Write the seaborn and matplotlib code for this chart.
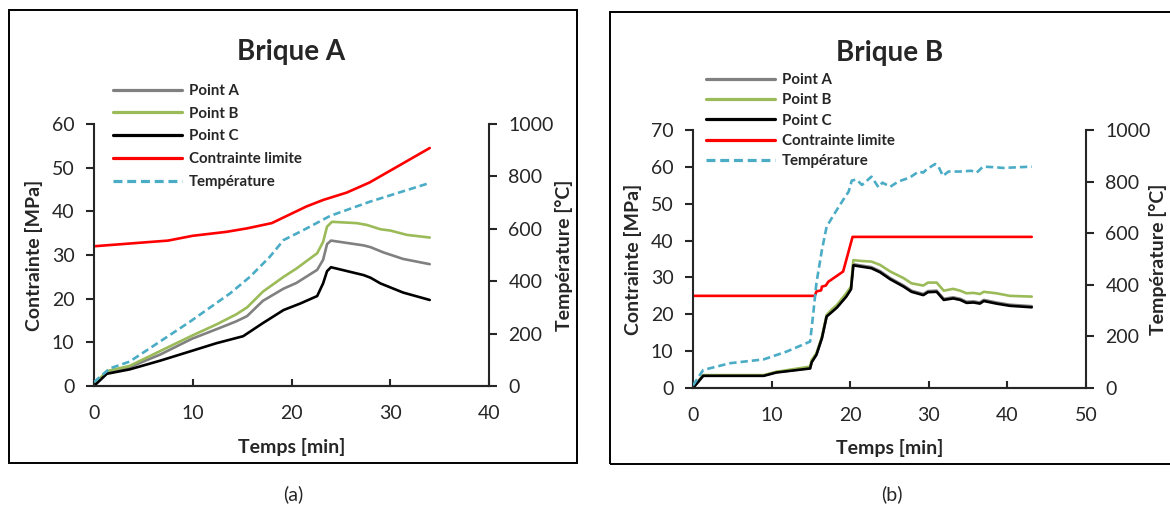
import matplotlib
matplotlib.use("Agg")
import matplotlib.pyplot as plt
from matplotlib.patches import Rectangle
import seaborn as sns

# -----------------------------
# DATA - BRIQUE A
# -----------------------------

a_pa_t = [0, 1.3, 3.6, 6.7, 9.9, 12.4, 14.4, 15.5, 17.1, 19.2, 20.5, 22.6, 23.2, 23.6, 24.0, 27.3, 28.0, 29.3, 31.3, 34.0]
a_pa_v = [0.3, 3.1, 4.3, 7.2, 10.8, 13.0, 14.8, 16.0, 19.5, 22.3, 23.6, 26.6, 28.9, 32.5, 33.3, 32.2, 31.8, 30.6, 29.1, 27.9]

a_pb_t = [0, 1.3, 3.6, 6.7, 9.9, 12.4, 14.4, 15.5, 17.1, 19.2, 20.5, 22.6, 23.2, 23.6, 24.1, 26.6, 27.6, 29.0, 30.0, 31.7, 34.0]
a_pb_v = [0.3, 3.4, 4.6, 8.0, 11.5, 14.1, 16.4, 18.0, 21.6, 25.0, 26.9, 30.4, 33.0, 36.5, 37.6, 37.3, 36.9, 35.9, 35.6, 34.6, 34.0]

a_pc_t = [0, 1.3, 3.6, 6.7, 9.7, 12.4, 15.1, 17.1, 19.2, 20.9, 22.6, 23.2, 23.6, 24.0, 27.3, 28.0, 29.0, 31.3, 34.0]
a_pc_v = [0, 2.8, 3.8, 5.8, 7.9, 9.8, 11.4, 14.4, 17.4, 18.9, 20.6, 23.5, 26.3, 27.2, 25.4, 24.8, 23.5, 21.4, 19.7]

a_lim_t = [0, 7.5, 10, 13.4, 15.5, 18.0, 21.5, 23.2, 25.6, 27.9, 34.0]
a_lim_v = [32, 33.3, 34.4, 35.3, 36.1, 37.3, 41.1, 42.6, 44.3, 46.6, 54.5]

a_temp_t = [0, 1.6, 3.6, 7.7, 9.7, 13.8, 15.8, 17.8, 19.2, 21.2, 23.9, 27.9, 34.0]
a_temp_v = [15, 67, 93, 195, 245, 354, 417, 493, 557, 595, 649, 703, 775]

# -----------------------------
# DATA - BRIQUE B
# -----------------------------

b_pt_t = [0, 1.3, 9.0, 10.6, 14.9, 15.1, 15.7, 16.4, 17.0, 17.6, 18.3, 19.5, 20.1, 20.4, 21.2, 22.7,
          23.8, 25.1, 26.8, 27.8, 29.3, 29.9, 31.0, 31.9, 33.1, 34.0, 34.8, 35.7, 36.5, 37.0, 38.6, 40.3, 43.1]
b_pa_v = [0, 3.4, 3.4, 4.3, 5.4, 7.1, 9.1, 13.6, 19.5, 20.6, 21.9, 24.9, 26.9, 33.6, 33.3, 32.8,
          31.7, 29.8, 27.8, 26.4, 25.5, 26.3, 26.4, 24.2, 24.6, 24.2, 23.4, 23.5, 23.2, 23.9, 23.2, 22.6, 22.2]
b_pb_v = [0, 3.5, 3.5, 4.4, 5.8, 7.6, 9.4, 13.9, 19.8, 21.2, 22.5, 25.7, 27.5, 34.7, 34.5, 34.3,
          33.4, 31.6, 29.8, 28.4, 27.8, 28.6, 28.6, 26.4, 26.9, 26.4, 25.7, 25.8, 25.5, 26.1, 25.7, 25.0, 24.8]
b_pc_v = [0, 3.3, 3.3, 4.2, 5.3, 7.0, 9.0, 13.5, 19.4, 20.5, 21.8, 24.8, 26.8, 33.3, 33.0, 32.5,
          31.4, 29.5, 27.5, 26.1, 25.2, 26.0, 26.1, 23.9, 24.3, 23.9, 23.1, 23.2, 22.9, 23.6, 22.9, 22.3, 21.9]

b_lim_t = [0, 15.5, 15.7, 16.3, 16.4, 16.9, 17.2, 19.1, 20.3, 43.1]
b_lim_v = [25, 25, 26.2, 26.5, 27.5, 27.8, 28.8, 31.6, 41, 41]

b_temp_t = [0, 1.3, 4.7, 9.0, 11.9, 14.9, 15.3, 15.7, 16.4, 17.0, 17.9, 19.1, 19.8, 20.2, 20.8, 21.5, 22.7, 23.6,
            24.1, 25.1, 26.1, 27.6, 28.7, 29.3, 29.7, 30.8, 31.2, 31.8, 32.5, 34.0, 35.4, 36.1, 36.9, 38.2, 39.5, 43.1]
b_temp_v = [10, 70, 96, 111, 141, 180, 289, 406, 535, 625, 671, 729, 761, 804, 808, 787, 819, 778,
            796, 780, 800, 816, 839, 835, 847, 868, 860, 822, 839, 839, 842, 835, 858, 856, 853, 858]

labels = ["Point A", "Point B", "Point C", "Contrainte limite", "Température"]
colors = ["#808080", "#9BBB59", "#000000", "#FF0000", "#4BACC6"]

# -----------------------------
# STYLE
# -----------------------------

sns.set_style("white")
plt.rcParams["font.family"] = ["Lato", "DejaVu Sans"]

W, H = 1170, 508
fig = plt.figure(figsize=(11.7, 5.08), dpi=100)


def panel(box, series, temp, xmax, ymax, title, title_xy, leg_xy, leg_space, frame, caption, caption_x):
    ax = fig.add_axes(box)
    for (t, v), lab, col in zip(series, labels[:4], colors[:4]):
        sns.lineplot(x=t, y=v, ax=ax, color=col, lw=1.9, label=lab, sort=False, estimator=None)
    ax2 = ax.twinx()
    sns.lineplot(x=temp[0], y=temp[1], ax=ax2, color=colors[4], lw=1.9, label=labels[4],
                 sort=False, estimator=None, linestyle=(0, (2.8, 1.5)))

    ax.set_xlim(0, xmax)
    ax.set_ylim(0, ymax)
    ax2.set_ylim(0, 1000)
    ax.set_xticks(range(0, xmax + 1, 10))
    ax.set_yticks(range(0, ymax + 1, 10))
    ax2.set_yticks(range(0, 1001, 200))

    for a in (ax, ax2):
        a.spines["top"].set_visible(False)
        for s in a.spines.values():
            s.set_linewidth(1.5)
    ax.spines["right"].set_visible(False)
    ax2.spines["left"].set_visible(False)

    ax.tick_params(axis="y", direction="out", length=6, width=1.5, pad=8, labelsize=14, left=True)
    ax.tick_params(axis="x", direction="in", length=5, width=1.5, pad=14, labelsize=14, bottom=True)
    ax2.tick_params(axis="y", direction="out", length=6, width=1.5, pad=8, labelsize=14, right=True)

    ax.set_xlabel("Temps [min]", fontsize=14, fontweight="bold")
    ax.set_ylabel("Contrainte [MPa]", fontsize=14, fontweight="bold")
    ax2.set_ylabel("Température [°C]", fontsize=14, fontweight="bold", rotation=90)
    ax.xaxis.set_label_coords(0.5, -0.233)
    ax.yaxis.set_label_coords(-0.153, 0.5)
    ax2.yaxis.set_label_coords(1.19 if xmax == 40 else 1.182, 0.5)
    ax.xaxis.label.set_va("center")
    ax.yaxis.label.set_va("center")
    ax2.yaxis.label.set_va("center")

    h1, l1 = ax.get_legend_handles_labels()
    h2, l2 = ax2.get_legend_handles_labels()
    ax.get_legend().remove()
    ax2.get_legend().remove()
    leg = ax2.legend(h1 + h2, l1 + l2, loc="upper left", bbox_to_anchor=(leg_xy[0] / W, 1 - leg_xy[1] / H),
                     bbox_transform=fig.transFigure, frameon=False, borderpad=0, borderaxespad=0,
                     handlelength=4.6, handletextpad=0.45, labelspacing=leg_space,
                     prop={"weight": "bold", "size": 10.8})
    for ln in leg.get_lines():
        ln.set_linewidth(2.3)

    fig.text(title_xy[0] / W, 1 - title_xy[1] / H, title, ha="center", va="center",
             fontsize=20, fontweight="bold")

    x0, y0, x1, y1 = frame
    fig.add_artist(Rectangle((x0 / W, 1 - y1 / H), (x1 - x0) / W, (y1 - y0) / H,
                             transform=fig.transFigure, fill=False, ec="black", lw=1.4))
    fig.text(caption_x / W, 1 - 494 / H, caption, ha="center", va="center", fontsize=14)


# -----------------------------
# BRIQUE A
# -----------------------------

panel([94 / W, 1 - 386 / H, 395 / W, 262 / H],
      [(a_pa_t, a_pa_v), (a_pb_t, a_pb_v), (a_pc_t, a_pc_v), (a_lim_t, a_lim_v)],
      (a_temp_t, a_temp_v), 40, 60, "Brique A", (291.5, 52), (113, 84), 0.58,
      (9, 10, 577, 463), "(a)", 293)

# -----------------------------
# BRIQUE B
# -----------------------------

panel([693 / W, 1 - 388 / H, 393 / W, 258 / H],
      [(b_pt_t, b_pa_v), (b_pt_t, b_pb_v), (b_pt_t, b_pc_v), (b_lim_t, b_lim_v)],
      (b_temp_t, b_temp_v), 50, 70, "Brique B", (890, 53), (706, 73), 0.42,
      (610, 12, 1185, 464), "(b)", 892)

fig.savefig("out.png", dpi=100)
